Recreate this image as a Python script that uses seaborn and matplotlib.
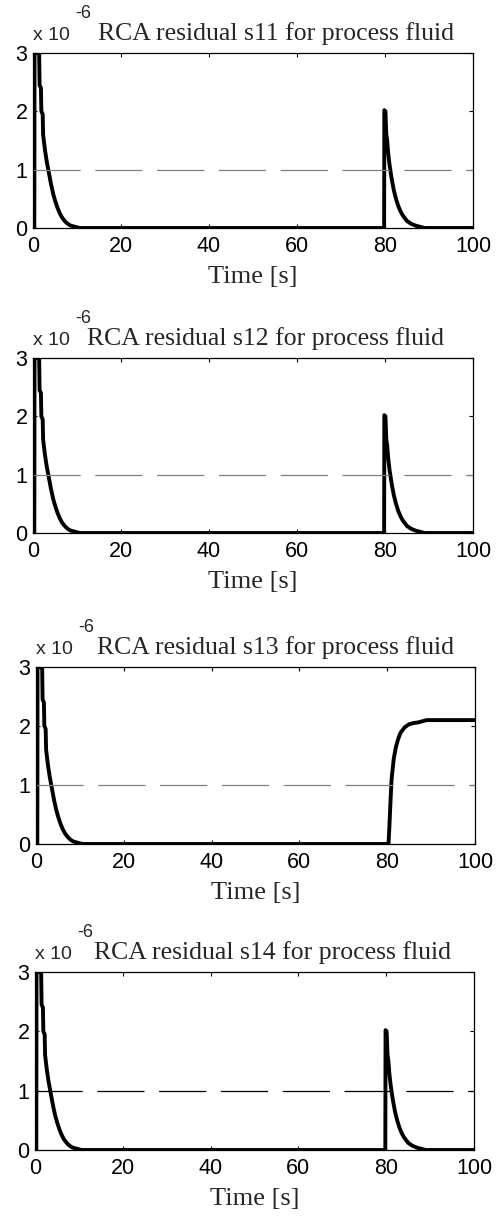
import numpy as np
import pandas as pd
import matplotlib
matplotlib.use("Agg")
import matplotlib.pyplot as plt
import seaborn as sns

sns.set_style("ticks")
plt.rcParams['font.family'] = ['Liberation Sans', 'DejaVu Sans']
plt.rcParams['lines.scale_dashes'] = False

# ---- data (values in units of 1e-6) ----
titles = ["RCA residual s11 for process fluid",
          "RCA residual s12 for process fluid",
          "RCA residual s13 for process fluid",
          "RCA residual s14 for process fluid"]

# initial transient (shared shape)
t_start = [0.0, 0.3, 0.35, 0.6, 0.7, 1.4, 1.5, 1.8, 1.9, 2.2, 2.3, 2.7, 3.1, 3.6,
           4.1, 4.6, 5.1, 5.6, 6.1, 6.6, 7.1, 7.6, 8.1, 8.6, 9.1, 9.6, 10.1, 10.6]
r_start = [0.0, 0.0, 3.1, 3.1, 3.0, 3.0, 2.45, 2.4, 2.0, 1.95, 1.6, 1.35, 1.15, 0.95,
           0.75, 0.58, 0.45, 0.34, 0.25, 0.18, 0.13, 0.09, 0.06, 0.04, 0.03, 0.02, 0.01, 0.0]

# pulse fault response at t = 80 s (s11, s12, s14)
t_pulse = [79.8, 79.85, 80.1, 80.3, 80.5, 80.7, 81.0, 81.5, 82.0, 82.5, 83.0, 83.5,
           84.0, 85.0, 86.0, 87.0, 88.0, 89.0, 100.0]
r_pulse = [0.0, 2.02, 2.0, 1.6, 1.5, 1.3, 1.1, 0.85, 0.65, 0.5, 0.38, 0.29,
           0.22, 0.12, 0.07, 0.04, 0.02, 0.0, 0.0]

# persistent fault response at t = 80 s (s13)
t_step = [80.3, 80.5, 80.8, 81.0, 81.5, 82.0, 82.5, 83.0, 84.0, 85.0, 86.0, 87.0,
          88.0, 89.0, 100.0]
r_step = [0.0, 0.3, 0.8, 1.1, 1.45, 1.65, 1.78, 1.88, 1.98, 2.03, 2.05, 2.06,
          2.08, 2.1, 2.1]

threshold = [1.0]
x_ticks = [0, 20, 40, 60, 80, 100]
y_ticks = [0, 1, 2, 3]

series = [t_start + t_pulse, t_start + t_pulse, t_start + t_step, t_start + t_pulse]
values = [r_start + r_pulse, r_start + r_pulse, r_start + r_step, r_start + r_pulse]
dash_colors = ["#808080", "#808080", "#808080", "#000000"]

# axes rectangles in pixels (layout only)
W, H = 502, 1219
rects = [(33, 53, 440, 175), (33, 358, 440, 175), (36, 667, 439, 177), (35, 972, 439, 178)]
title_x = [98, 87, 97, 94]

fig = plt.figure(figsize=(W / 100, H / 100), dpi=100)
fig.patch.set_facecolor("white")

for i in range(4):
    l, t, w, h = rects[i]
    ax = fig.add_axes([l / W, 1 - (t + h) / H, w / W, h / H])
    df = pd.DataFrame({"t": series[i], "r": values[i]})
    sns.lineplot(data=df, x="t", y="r", ax=ax, estimator=None, sort=False,
                 color="black", linewidth=2.8, clip_on=True)
    for th in threshold:
        ax.plot([0, 100], [th, th], color=dash_colors[i], linewidth=0.9,
                dashes=[34.0, 10.5])
    ax.set_xlim(0, 100)
    ax.set_ylim(0, 3)
    ax.set_xticks(x_ticks)
    ax.set_yticks(y_ticks)
    ax.set_xticklabels([str(v) for v in x_ticks])
    ax.set_yticklabels([str(v) for v in y_ticks])
    ax.tick_params(direction="in", length=3, width=0.8, top=True, right=True,
                   labelsize=15.5, pad=4, colors="black")
    ax.tick_params(axis="x", pad=6)
    for sp in ax.spines.values():
        sp.set_visible(True)
        sp.set_linewidth(0.9)
        sp.set_color("black")
    ax.set_ylabel("")
    ax.set_xlabel("Time [s]", family=["Liberation Serif", "DejaVu Serif"],
                  fontsize=19, labelpad=6)
    # title
    fig.text(title_x[i] / W, 1 - (t - 13) / H, titles[i],
             family=["Liberation Serif", "DejaVu Serif"], fontsize=18.5,
             ha="left", va="baseline")
    # exponent label
    fig.text((l) / W, 1 - (t - 13) / H, "x 10", fontsize=14, ha="left", va="baseline")
    fig.text((l + 42) / W, 1 - (t - 35) / H, "-6", fontsize=13, ha="left", va="baseline")

fig.savefig("out.png", dpi=100, facecolor="white")
